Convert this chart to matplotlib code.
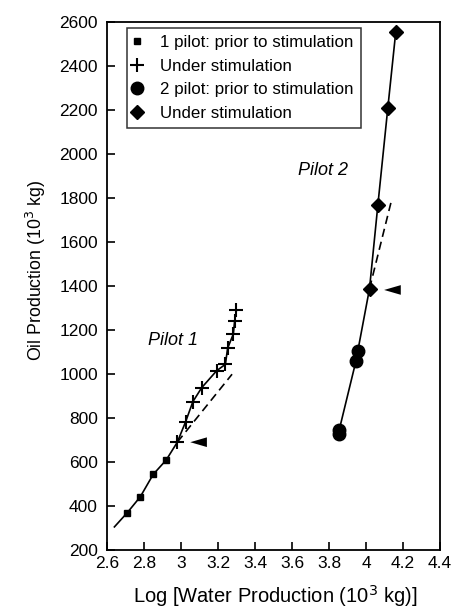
import matplotlib
matplotlib.use("Agg")
import matplotlib.pyplot as plt

plt.rcParams['font.family'] = ['Liberation Sans', 'DejaVu Sans']

# Pilot 1
p1_prior_x = [2.71, 2.78, 2.85, 2.92]
p1_prior_y = [370, 442, 544, 609]
p1_stim_x = [2.98, 3.025, 3.064, 3.112, 3.193, 3.24, 3.252, 3.283, 3.29, 3.30]
p1_stim_y = [690, 783, 874, 938, 1015, 1044, 1117, 1182, 1242, 1291]
p1_line_start = (2.64, 305)
p1_dash_x = [2.98, 3.276]
p1_dash_y = [690, 999]

# Pilot 2
p2_prior_x = [3.853, 3.855, 3.946, 3.956]
p2_prior_y = [728, 745, 1060, 1106]
p2_stim_x = [4.019, 4.064, 4.118, 4.161]
p2_stim_y = [1388, 1767, 2210, 2556]
p2_dash_x = [4.019, 4.136]
p2_dash_y = [1388, 1783]

# Arrowheads (tip x, y)
arrow_x = [3.05, 4.098]
arrow_y = [690, 1382]

xticks = [2.6, 2.8, 3.0, 3.2, 3.4, 3.6, 3.8, 4.0, 4.2, 4.4]
xtick_labels = ['2.6', '2.8', '3', '3.2', '3.4', '3.6', '3.8', '4', '4.2', '4.4']
yticks = list(range(200, 2601, 200))

fig = plt.figure(figsize=(4.51, 6.08), dpi=100)
ax = fig.add_axes([107/451, 1-550/608, (440-107)/451, (550-22)/608])

lw = 1.2
# Pilot 1 solid line
ax.plot([p1_line_start[0]] + p1_prior_x + p1_stim_x,
        [p1_line_start[1]] + p1_prior_y + p1_stim_y, color='black', lw=lw, zorder=2)
ax.plot(p1_dash_x, p1_dash_y, color='black', lw=lw, ls=(0, (5, 3)), zorder=2)
# Pilot 2 solid line
ax.plot(p2_prior_x + p2_stim_x, p2_prior_y + p2_stim_y, color='black', lw=lw, zorder=2)
ax.plot(p2_dash_x, p2_dash_y, color='black', lw=lw, ls=(0, (5, 3)), zorder=2)

h1, = ax.plot(p1_prior_x, p1_prior_y, 's', color='black', ms=5, ls='none', zorder=3)
h2, = ax.plot(p1_stim_x, p1_stim_y, '+', color='black', ms=10, mew=1.5, ls='none', zorder=3)
h3, = ax.plot(p2_prior_x, p2_prior_y, 'o', color='black', ms=9, ls='none', zorder=3)
h4, = ax.plot(p2_stim_x, p2_stim_y, 'D', color='black', ms=7, ls='none', zorder=3)

# Arrowhead triangles pointing left
for tx, ty in zip(arrow_x, arrow_y):
    ax.fill([tx, tx + 0.09, tx + 0.09], [ty, ty + 22, ty - 22], color='black', lw=0, zorder=3)

ax.text(2.955, 1151, 'Pilot 1', fontsize=13, style='italic', ha='center', va='center')
ax.text(3.765, 1927, 'Pilot 2', fontsize=13, style='italic', ha='center', va='center')

ax.set_xlim(2.6, 4.4)
ax.set_ylim(200, 2600)
ax.set_xticks(xticks)
ax.set_xticklabels(xtick_labels)
ax.set_yticks(yticks)
ax.tick_params(direction='in', length=6, width=1.2, labelsize=12.5)
ax.tick_params(axis='y', pad=6.5)
ax.tick_params(axis='x', pad=4.5)
for s in ax.spines.values():
    s.set_linewidth(1.3)

ax.set_xlabel('Log [Water Production (10$^3$ kg)]', fontsize=14.5)
ax.xaxis.set_label_coords(0.505, -0.062)
ax.set_ylabel('Oil Production (10$^3$ kg)', fontsize=12.8)
ax.yaxis.set_label_coords(-0.177, 0.53)

leg = ax.legend([h1, h2, h3, h4],
                ['1 pilot: prior to stimulation', 'Under stimulation',
                 '2 pilot: prior to stimulation', 'Under stimulation'],
                loc='upper left', bbox_to_anchor=(0.06, 0.9886), fontsize=12.2,
                frameon=True, fancybox=False, edgecolor='black', handlelength=0.4,
                handletextpad=1.15, borderpad=0.42, labelspacing=0.5, borderaxespad=0)
leg.get_frame().set_linewidth(1.1)

fig.savefig('out.png', dpi=100)
